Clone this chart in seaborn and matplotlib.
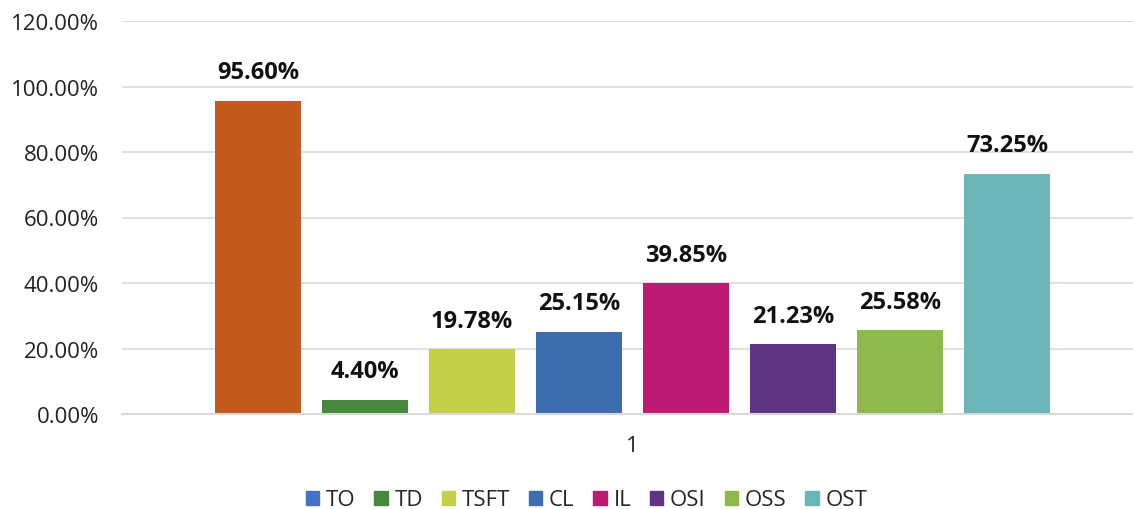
import pandas as pd
import matplotlib.pyplot as plt
import matplotlib.patches as mpatches
from matplotlib.ticker import PercentFormatter
import seaborn as sns

categories = ["TO", "TD", "TSFT", "CL", "IL", "OSI", "OSS", "OST"]
values = [95.60, 4.40, 19.78, 25.15, 39.85, 21.23, 25.58, 73.25]
group = ["1"] * len(categories)

bar_colors = ["#C55A1F", "#47873E", "#C5CE46", "#3D6DAF", "#BE1A73", "#5E3483", "#8DB84C", "#6AB5B8"]
legend_colors = ["#4472C4"] + bar_colors[1:]


def create_plot():
    df = pd.DataFrame({"group": group, "metric": categories, "value": [v / 100 for v in values]})

    sns.set_theme(style="white")
    plt.rcParams["font.family"] = ["Open Sans", "DejaVu Sans"]

    fig = plt.figure(figsize=(11.33, 5.10), dpi=100)
    ax = fig.add_axes([122 / 1133, 95 / 510, 1011 / 1133, 393 / 510])

    sns.barplot(data=df, x="group", y="value", hue="metric", hue_order=categories,
                palette=bar_colors, width=0.847, gap=0.2, ax=ax, legend=False,
                saturation=1, linewidth=0, edgecolor="none")

    ax.set_ylim(0, 1.2)
    ax.set_xlim(-0.505, 0.495)
    ax.set_yticks([i * 0.2 for i in range(7)])
    ax.yaxis.set_major_formatter(PercentFormatter(1.0, decimals=2))
    ax.grid(axis="y", color="#D9D9D9", linewidth=1.2)
    ax.set_axisbelow(True)
    for side in ["top", "right", "left"]:
        ax.spines[side].set_visible(False)
    ax.spines["bottom"].set_color("#D9D9D9")
    ax.spines["bottom"].set_linewidth(1.5)
    ax.tick_params(axis="y", labelsize=16, colors="#222222", pad=16.5, length=0)
    ax.tick_params(axis="x", labelsize=16, colors="#222222", pad=15, length=0)
    ax.set_xlabel("")
    ax.set_ylabel("")

    for container in ax.containers:
        ax.bar_label(container, labels=[f"{v:.2f}%" for v in [c.get_height() * 100 for c in container]],
                     padding=12, fontsize=17, fontweight="bold", color="#111111")

    handles = [mpatches.Patch(color=c, label=l) for c, l in zip(legend_colors, categories)]
    fig.legend(handles=handles, loc="center", bbox_to_anchor=(586.5 / 1133, 9 / 510),
               ncol=len(categories), frameon=False, fontsize=16, handlelength=0.6,
               handleheight=0.6, handletextpad=0.3, columnspacing=0.85)

    fig.savefig("out.png", dpi=100)
    plt.close(fig)


if __name__ == "__main__":
    create_plot()
